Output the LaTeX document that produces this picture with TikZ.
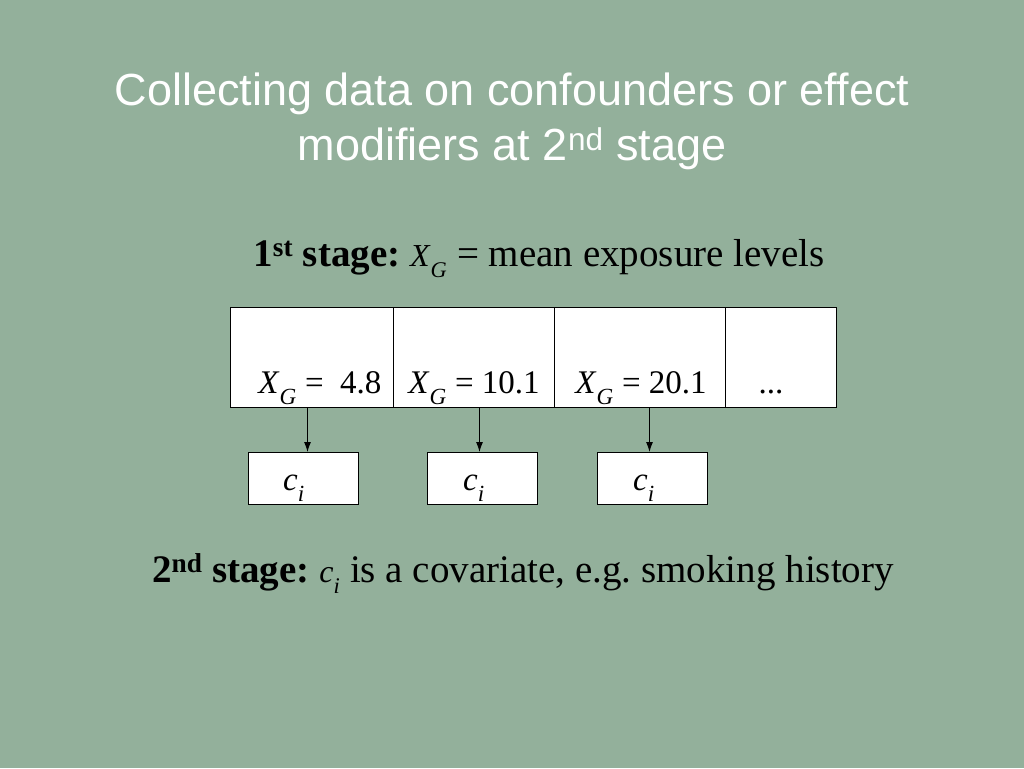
\documentclass[tikz,border=0pt]{standalone}
\usepackage{fontspec}
\setmainfont{Liberation Serif}
\newfontfamily\titlefont{Liberation Sans}
\usepackage{tikz}
\usetikzlibrary{arrows.meta}
\definecolor{slidegreen}{RGB}{147,176,155}
\newcommand{\lowsub}[1]{\raisebox{-0.15em}{\textsubscript{\textit{#1}}}}
\newcommand{\XG}{\textit{X}\lowsub{G}}
\newcommand{\ci}{\textit{c}\lowsub{i}}
\frenchspacing

\begin{document}
\begin{tikzpicture}[x=1pt, y=-1pt,
        cell/.style={draw, line width=1pt, fill=white, anchor=north west, inner sep=0pt},
        lbl/.style={anchor=base, inner sep=0pt, font=\fontsize{33}{36}\selectfont}]
            \fill[slidegreen] (0,0) rectangle (1024,768);
            \useasboundingbox (0,0) rectangle (1024,768);

            \node[anchor=base, inner sep=0pt, text=white, font=\titlefont\fontsize{45}{54}\selectfont] (title) at (512,105) {Collecting data on confounders or effect};
            \node[anchor=base, inner sep=0pt, text=white, font=\titlefont\fontsize{45}{54}\selectfont] (title2) at (512,160) {modifiers at 2\textsuperscript{nd} stage};

            \node[anchor=base, inner sep=0pt, font=\fontsize{39}{42}\selectfont] (first) at (539,266) {\textbf{1\textsuperscript{st} stage:} {\fontsize{32}{36}\selectfont\XG} = mean exposure levels};

            \node[cell, minimum width=163pt, minimum height=100pt] (cellA) at (230,307) {};
            \node[cell, minimum width=161pt, minimum height=100pt] (cellB) at (393,307) {};
            \node[cell, minimum width=171pt, minimum height=100pt] (cellC) at (554,307) {};
            \node[cell, minimum width=111pt, minimum height=100pt] (cellD) at (725,307) {};

            \node[lbl] (xA) at (320,393) {\XG\ =\ \ 4.8};
            \node[lbl] (xB) at (474,393) {\XG\ = 10.1};
            \node[lbl] (xC) at (641,393) {\XG\ = 20.1};
            \node[lbl] (xD) at (771,393) {...};

            \node[cell, minimum width=110pt, minimum height=52pt] (ciA) at (248,452) {};
            \node[cell, minimum width=110pt, minimum height=52pt] (ciB) at (427,452) {};
            \node[cell, minimum width=110pt, minimum height=52pt] (ciC) at (597,452) {};

            \node[lbl] (cA) at (294,490) {\ci};
            \node[lbl] (cB) at (474,490) {\ci};
            \node[lbl] (cC) at (644,490) {\ci};

            \draw[-{Latex[length=10pt,width=7pt]}, line width=1pt] ([xshift=4pt]ciA.north |- cellA.south) -- ([xshift=4pt]ciA.north);
            \draw[-{Latex[length=10pt,width=7pt]}, line width=1pt] ([xshift=-3pt]ciB.north |- cellB.south) -- ([xshift=-3pt]ciB.north);
            \draw[-{Latex[length=10pt,width=7pt]}, line width=1pt] ([xshift=-3pt]ciC.north |- cellC.south) -- ([xshift=-3pt]ciC.north);

            \node[anchor=base, inner sep=0pt, font=\fontsize{39}{42}\selectfont] (second) at (523,582) {\textbf{2\textsuperscript{nd} stage:} {\fontsize{32}{36}\selectfont\ci} is a covariate, e.g. smoking history};
        \end{tikzpicture}
\end{document}
